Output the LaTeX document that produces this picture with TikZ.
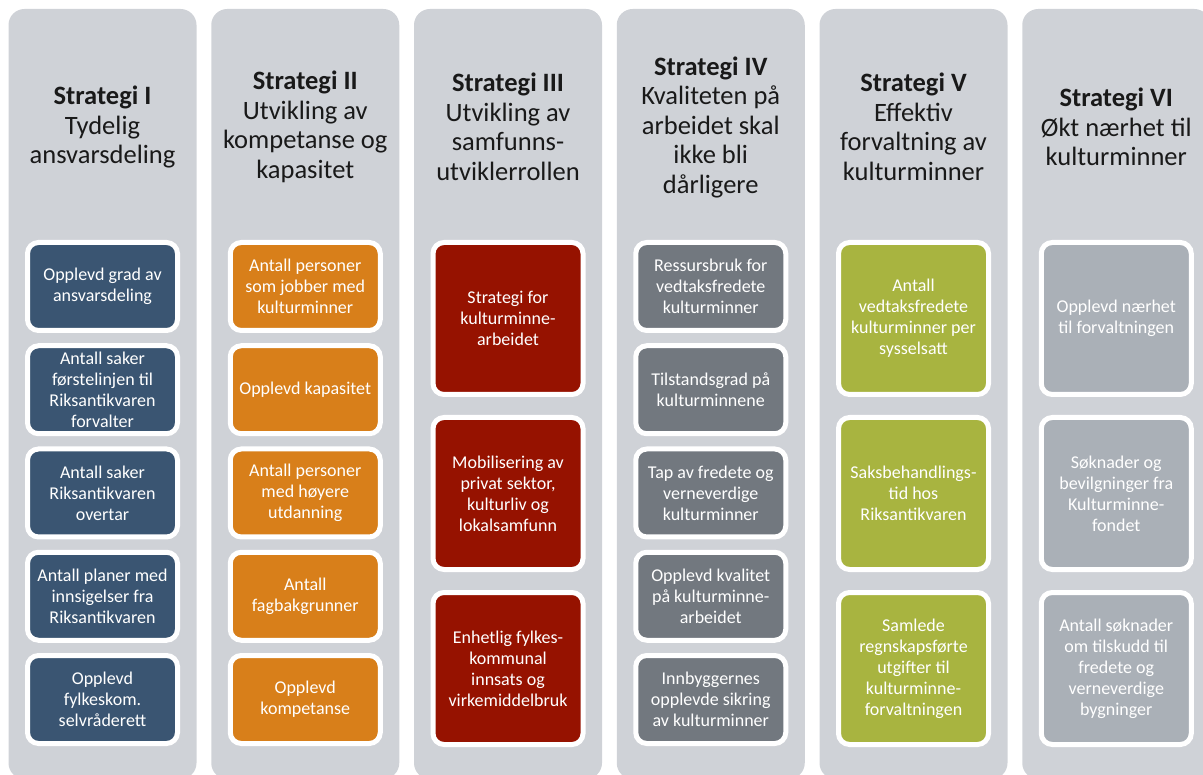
\documentclass[tikz,border=0pt]{standalone}
\usepackage{fontspec}
\setmainfont{Carlito}
\usetikzlibrary{positioning}
\definecolor{colbg}{RGB}{207,210,215}
\definecolor{navy}{RGB}{58,85,114}
\definecolor{amber}{RGB}{216,127,26}
\definecolor{brick}{RGB}{150,18,0}
\definecolor{slate}{RGB}{114,120,127}
\definecolor{olive}{RGB}{168,180,64}
\definecolor{ash}{RGB}{170,176,183}

\begin{document}
\begin{tikzpicture}[x=1pt,y=-1pt,
  strategy/.style={fill=colbg,rounded corners=16pt,minimum width=188pt,minimum height=770pt,inner sep=0pt},
  heading/.style={align=center,text=black!90,font=\fontsize{26.5}{29.5}\selectfont},
  kpi/.style={draw=white,line width=5pt,rounded corners=11pt,text=white,align=center,inner sep=0pt,minimum width=150pt,font=\fontsize{18}{21}\selectfont},
  kpismall/.style={kpi,minimum height=88pt},
  kpilarge/.style={kpi,minimum height=152pt}]
\useasboundingbox (0,0) rectangle (1203,775);
\clip (0,0) rectangle (1203,775);
% strategy columns with headings
\foreach \h/\t[count=\x] in {I/{Tydelig\\ansvarsdeling},II/{Utvikling av\\kompetanse og\\kapasitet},III/{Utvikling av\\samfunns-\\utviklerrollen},IV/{Kvaliteten på\\arbeidet skal\\ikke bli\\dårligere},V/{Effektiv\\forvaltning av\\kulturminner},VI/{Økt nærhet til\\kulturminner}} {
  \pgfmathsetmacro\cx{102.5+202.75*(\x-1)}
  \node[strategy] (S\x) at (\cx,394) {};
  \node[heading] (H\x) at (\cx,127) {\textbf{Strategi \h}\\\t};
}
% indicators
\foreach \t[count=\i] in {{Opplevd grad av\\ansvarsdeling},{Antall saker\\førstelinjen til\\Riksantikvaren\\forvalter},{Antall saker\\Riksantikvaren\\overtar},{Antall planer med\\innsigelser fra\\Riksantikvaren},{Opplevd\\fylkeskom.\\selvråderett}}
  \node[kpismall,fill=navy] (A\i) at (102.5,183.25+103.25*\i) {\t};
\foreach \t[count=\i] in {{Antall personer\\som jobber med\\kulturminner},{Opplevd kapasitet},{Antall personer\\med høyere\\utdanning},{Antall\\fagbakgrunner},{Opplevd\\kompetanse}}
  \node[kpismall,fill=amber] (B\i) at (305.25,183.25+103.25*\i) {\t};
\foreach \t[count=\i] in {{Strategi for\\kulturminne-\\arbeidet},{Mobilisering av\\privat sektor,\\kulturliv og\\lokalsamfunn},{Enhetlig fylkes-\\kommunal\\innsats og\\virkemiddelbruk}}
  \node[kpilarge,fill=brick] (C\i) at (508,143.5+175*\i) {\t};
\foreach \t[count=\i] in {{Ressursbruk for\\vedtaksfredete\\kulturminner},{Tilstandsgrad på\\kulturminnene},{Tap av fredete og\\verneverdige\\kulturminner},{Opplevd kvalitet\\på kulturminne-\\arbeidet},{Innbyggernes\\opplevde sikring\\av kulturminner}}
  \node[kpismall,fill=slate] (D\i) at (710.75,183.25+103.25*\i) {\t};
\foreach \t[count=\i] in {{Antall\\vedtaksfredete\\kulturminner per\\sysselsatt},{Saksbehandlings-\\tid hos\\Riksantikvaren},{Samlede\\regnskapsførte\\utgifter til\\kulturminne-\\forvaltningen}}
  \node[kpilarge,fill=olive] (E\i) at (913.5,143.5+175*\i) {\t};
\foreach \t[count=\i] in {{Opplevd nærhet\\til forvaltningen},{Søknader og\\bevilgninger fra\\Kulturminne-\\fondet},{Antall søknader\\om tilskudd til\\fredete og\\verneverdige\\bygninger}}
  \node[kpilarge,fill=ash] (F\i) at (1116.25,143.5+175*\i) {\t};
\end{tikzpicture}
\end{document}
